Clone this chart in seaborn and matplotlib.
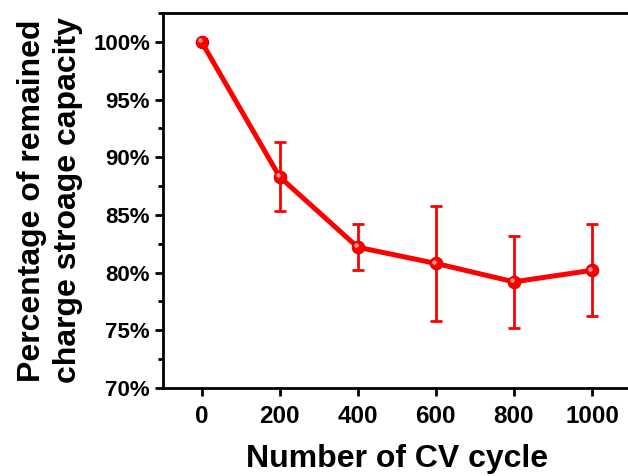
import matplotlib
matplotlib.use("Agg")
import matplotlib.pyplot as plt
import matplotlib.transforms as mtransforms
from matplotlib.ticker import MultipleLocator, FuncFormatter
import seaborn as sns
import pandas as pd

cycles = [0, 200, 400, 600, 800, 1000]
retention = [100.0, 88.3, 82.2, 80.8, 79.2, 80.2]
errors = [0.0, 3.0, 2.0, 5.0, 4.0, 4.0]
x_ticks = [0, 200, 400, 600, 800, 1000]
y_ticks = [70, 75, 80, 85, 90, 95, 100]

sns.set_theme(style="ticks")
plt.rcParams['font.family'] = ['Liberation Sans', 'DejaVu Sans']
plt.rcParams['font.weight'] = 'bold'
plt.rcParams['text.color'] = 'black'
plt.rcParams['axes.labelcolor'] = 'black'

df = pd.DataFrame({"cycle": cycles, "ret": retention, "err": errors})

fig = plt.figure(figsize=(6.28, 4.76), dpi=100)
ax = fig.add_axes([162.5 / 628, 88 / 476, (631 - 162.5) / 628, (388 - 13) / 476])

red = "#ff0000"
ax.errorbar(df["cycle"], df["ret"], yerr=df["err"], fmt="none", ecolor=red,
            elinewidth=2.0, capsize=4, capthick=2.0, zorder=2)
sns.lineplot(data=df, x="cycle", y="ret", ax=ax, color=red, linewidth=3.6,
             marker="o", markersize=9, markerfacecolor=red,
             markeredgecolor="#e00000", markeredgewidth=0.8, zorder=3)
# highlight for the sphere look
hl = mtransforms.offset_copy(ax.transData, fig=fig, x=-1.3, y=1.3, units="points")
ax.plot(df["cycle"], df["ret"], linestyle="none", marker="o", markersize=3.2,
        markerfacecolor="#ff9a9a", markeredgewidth=0, transform=hl, zorder=4)

ax.set_xlim(-100, 1100)
ax.set_ylim(70, 102.5)
ax.set_xticks(x_ticks)
ax.set_yticks(y_ticks)
ax.yaxis.set_minor_locator(MultipleLocator(2.5))
ax.yaxis.set_major_formatter(FuncFormatter(lambda v, p: f"{v:.0f}%"))

for s in ["left", "bottom", "top", "right"]:
    ax.spines[s].set_linewidth(2.0)
    ax.spines[s].set_color("black")

ax.tick_params(axis="both", which="major", direction="out", length=6, width=2,
               color="black", labelcolor="black")
ax.tick_params(axis="y", which="major", labelsize=16, pad=3)
ax.tick_params(axis="x", which="major", labelsize=17.5, pad=6)
ax.tick_params(axis="y", which="minor", direction="out", length=3.5, width=2, color="black")
for lab in ax.get_xticklabels() + ax.get_yticklabels():
    lab.set_fontweight("bold")

ax.set_xlabel("Number of CV cycle", fontsize=23, fontweight="bold", labelpad=12,
              color="black")
ax.set_ylabel("Percentage of remained\ncharge stroage capacity", fontsize=23,
              fontweight="bold", labelpad=7, linespacing=1.3, color="black")
ax.grid(False)

fig.savefig("out.png", dpi=100)
